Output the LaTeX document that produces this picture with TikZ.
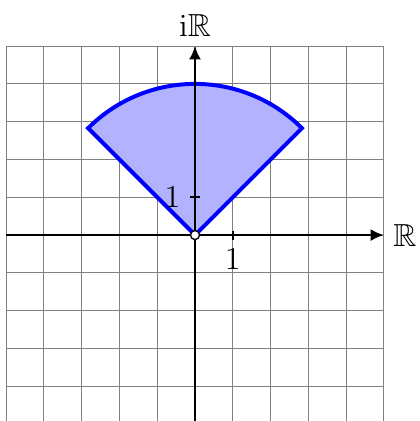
\documentclass[tikz,border=0pt]{standalone}
\usepackage{amssymb}
\usetikzlibrary{arrows.meta}

\begin{document}
\begin{tikzpicture}[x=0.5cm, y=0.5cm,
  axis/.style={thick, -{Latex[length=5pt, width=4.5pt]}},
  sector/.style={line width=1.5pt, draw=blue, fill=blue!30},
  lbl/.style={font=\large}]
\useasboundingbox (-5.16,-4.92) rectangle (5.93,6.22);
\draw[gray, line width=0.4pt, step=0.5cm] (-5,-5) grid (5,5);
\coordinate (O) at (0,0);
\coordinate (xmin) at (-5,0);
\coordinate (xmax) at (5,0);
\coordinate (ymin) at (0,-5);
\coordinate (ymax) at (0,5);
\draw[sector] (O) -- (45:4) arc[start angle=45, end angle=135, radius=4] -- cycle;
\draw[axis] (xmin) -- (xmax);
\draw[axis] (ymin) -- (ymax);
\node[lbl, right] (re) at (xmax) {$\mathbb{R}$};
\node[lbl, above] (im) at (ymax) {$\mathrm{i}\mathbb{R}$};
\draw[thick] (1,-0.12) -- (1,0.12);
\draw[thick] (-0.12,1) -- (0.12,1);
\node[lbl, below] (onex) at (1,-0.12) {$1$};
\node[lbl, left=2pt] (oney) at (0,1) {$1$};
\draw[fill=white, line width=0.5pt] (O) circle[radius=1.7pt];
\end{tikzpicture}
\end{document}
